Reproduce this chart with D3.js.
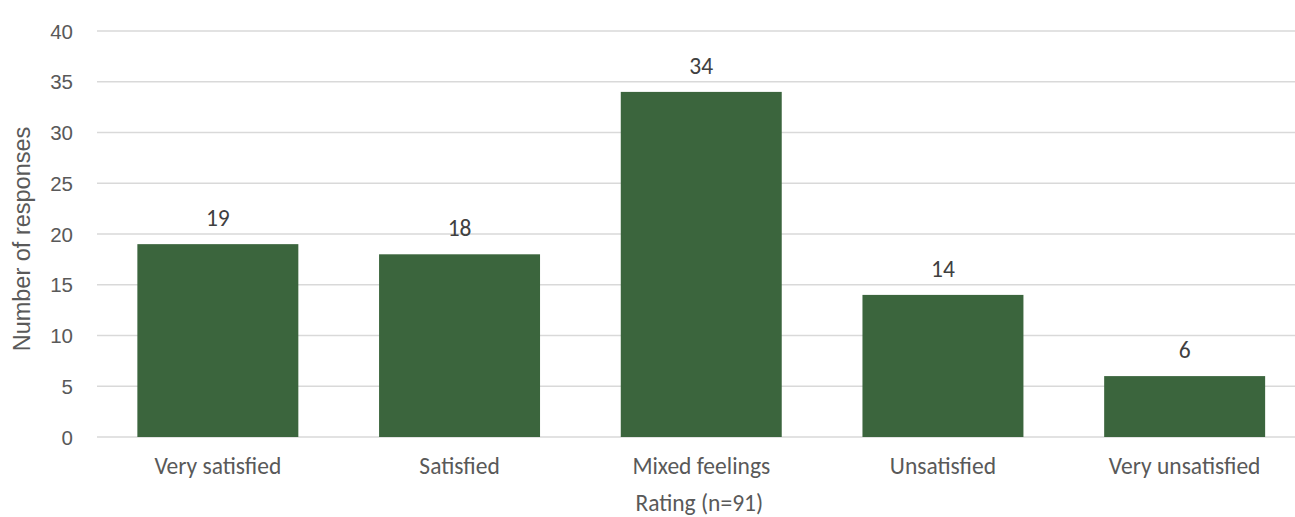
<!DOCTYPE html>
<html>
<head>
<meta charset="utf-8">
<script src="https://cdn.jsdelivr.net/npm/d3@7"></script>
<style>
  html, body { margin: 0; padding: 0; background: #ffffff; }
  svg { display: block; }
</style>
</head>
<body>
<svg id="chart" width="1295" height="517"></svg>
<script>
const categories = ["Very satisfied", "Satisfied", "Mixed feelings", "Unsatisfied", "Very unsatisfied"];
const values = [19, 18, 34, 14, 6];
const yTicks = [0, 5, 10, 15, 20, 25, 30, 35, 40];
const yTitle = "Number of responses";
const xTitle = "Rating (n=91)";

const svg = d3.select("#chart");
const plotLeft = 97, plotRight = 1305.5, plotTop = 31, plotBottom = 437;
const textColor = "#595959";
const calibri = "Carlito, Lato, 'Open Sans', sans-serif";
const arial = "'Liberation Sans', Arial, sans-serif";

const x = d3.scaleBand().domain(categories).range([plotLeft, plotRight])
  .paddingInner(0.334).paddingOuter(0.167);
const y = d3.scaleLinear().domain([0, 40]).range([plotBottom, plotTop]);

// gridlines
svg.append("g").selectAll("line").data(yTicks).join("line")
  .attr("x1", plotLeft).attr("x2", plotRight)
  .attr("y1", d => y(d)).attr("y2", d => y(d))
  .attr("stroke", "#d9d9d9").attr("stroke-width", 1.3);

// y axis labels
const yAxis = d3.axisLeft(y).tickValues(yTicks).tickSize(0).tickPadding(0);
const ya = svg.append("g").attr("transform", `translate(73,0)`).call(yAxis);
ya.select(".domain").remove();
ya.selectAll("text").attr("fill", textColor)
  .style("font-family", arial).style("font-size", "20.5px").attr("dy", "0.35em");

// bars
svg.append("g").selectAll("rect").data(values).join("rect")
  .attr("x", (d, i) => x(categories[i]))
  .attr("width", x.bandwidth())
  .attr("y", d => y(d))
  .attr("height", d => y(0) - y(d))
  .attr("fill", "#3b653d");

// data labels
svg.append("g").selectAll("text").data(values).join("text")
  .attr("x", (d, i) => x(categories[i]) + x.bandwidth() / 2)
  .attr("y", d => y(d) - 18)
  .attr("text-anchor", "middle")
  .attr("fill", "#404040")
  .style("font-family", calibri).style("font-size", "23.5px")
  .text(d => d);

// x axis labels
const xAxis = d3.axisBottom(x).tickSize(0).tickPadding(0);
const xa = svg.append("g").attr("transform", `translate(0,${plotBottom})`).call(xAxis);
xa.select(".domain").remove();
xa.selectAll("text").attr("fill", textColor).attr("y", 37).attr("dy", 0)
  .style("font-family", calibri).style("font-size", "23.5px");

// axis titles
svg.append("text")
  .attr("transform", `translate(30,${(plotTop + plotBottom) / 2 + 5}) rotate(-90)`)
  .attr("text-anchor", "middle").attr("fill", textColor)
  .style("font-family", arial).style("font-size", "23.5px")
  .text(yTitle);

svg.append("text")
  .attr("x", (plotLeft + plotRight) / 2 - 2).attr("y", 511)
  .attr("text-anchor", "middle").attr("fill", textColor)
  .style("font-family", calibri).style("font-size", "23.5px")
  .text(xTitle);
</script>
</body>
</html>
